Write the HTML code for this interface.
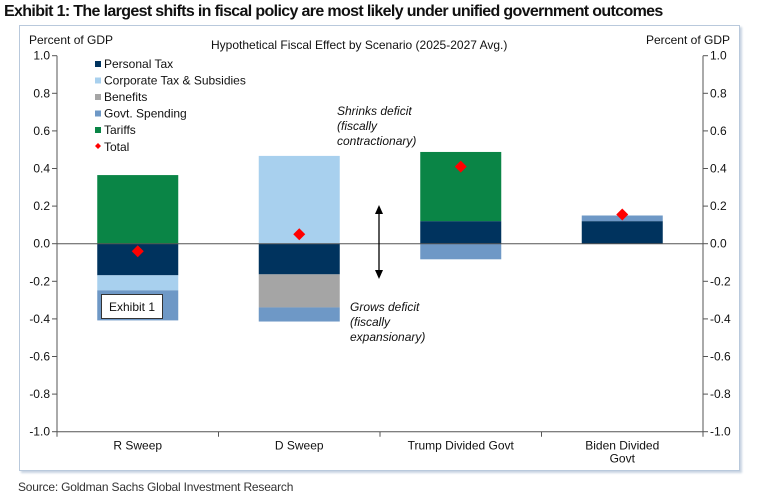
<!DOCTYPE html>
<html><head><meta charset="utf-8"><style>
body{margin:0;background:#fff;width:757px;height:503px;overflow:hidden;font-family:"Liberation Sans",sans-serif}
#title{position:absolute;left:4px;top:3px;font:bold 16px "Liberation Sans",sans-serif;color:#111;letter-spacing:-0.65px;white-space:nowrap}
#frame{position:absolute;left:19px;top:25px;width:719px;height:444px;border:1px solid #b9c9dc;box-shadow:2px 2px 2px #c8d4e2}
#src{position:absolute;left:18px;top:480px;font:12px "Liberation Sans",sans-serif;color:#333;letter-spacing:-0.2px}
svg{position:absolute;left:0;top:0}
text{font-family:"Liberation Sans",sans-serif;font-size:12px;fill:#111}
</style></head><body>
<div id="title">Exhibit 1: The largest shifts in fiscal policy are most likely under unified government outcomes</div>
<div id="frame"></div>
<div id="src">Source: Goldman Sachs Global Investment Research</div>
<svg id="chart" width="757" height="503"></svg>
<script>
const categories=["R Sweep","D Sweep","Trump Divided Govt","Biden Divided\nGovt"];
const personalTax=[-0.168,-0.163,0.12,0.12];
const corporateTax=[-0.08,0.467,0,0];
const benefits=[0,-0.176,0,0];
const govtSpending=[-0.16,-0.075,-0.083,0.03];
const tariffs=[0.365,0,0.368,0];
const totals=[-0.04,0.05,0.41,0.155];
const yTicks=[1.0,0.8,0.6,0.4,0.2,0.0,-0.2,-0.4,-0.6,-0.8,-1.0];

const NS="http://www.w3.org/2000/svg";
const svg=document.getElementById('chart');
const X0=57,X1=703,YT=55.7,YB=431.7;
const y=v=>YT+(1-v)/2*(YB-YT);
const band=(X1-X0)/categories.length;
const xc=i=>X0+band*(i+0.5);
const BW=81;
function el(t,a){const e=document.createElementNS(NS,t);for(const k in a)e.setAttribute(k,a[k]);svg.appendChild(e);return e;}

const series=[[personalTax,"#00335e","personal-tax"],[corporateTax,"#a8d0ee","corporate-tax"],[benefits,"#a5a5a5","benefits"],[govtSpending,"#6e98c6","govt-spending"],[tariffs,"#0a8546","tariffs"]];
categories.forEach((c,i)=>{
  let pos=0,neg=0;
  series.forEach(([arr,col,nm])=>{
    const v=arr[i]; if(!v)return;
    let a,b; if(v>0){a=pos;b=pos+v;pos=b;}else{a=neg;b=neg+v;neg=b;}
    const r=el('rect',{x:xc(i)-BW/2,y:y(Math.max(a,b)),width:BW,height:Math.abs(y(a)-y(b)),fill:col});
    
    
  });
});
const z=el('line',{x1:X0,x2:X1,y1:y(0),y2:y(0),stroke:'#555','stroke-width':1});

totals.forEach((v,i)=>{
  const cx=xc(i),cy=y(v),s=6;
  const d=el('polygon',{points:`${cx},${cy-s} ${cx+s},${cy} ${cx},${cy+s} ${cx-s},${cy}`,fill:'#f00'});
  
});
[[X0,-5,'end',X0-7],[X1,5,'start',X1+7]].forEach(([ax,tk,anc,tx],k)=>{
  const l=el('line',{x1:ax,x2:ax,y1:YT,y2:YB,stroke:'#555'});
  
  yTicks.forEach(t=>{
    el('line',{x1:ax,x2:ax+tk,y1:y(t),y2:y(t),stroke:'#555'});
    const tt=el('text',{x:tx,y:y(t)+4,'text-anchor':anc});tt.textContent=t.toFixed(1);
    
  });
});
el('line',{x1:X0,x2:X1,y1:YB,y2:YB,stroke:'#555'});
for(let i=0;i<=categories.length;i++)el('line',{x1:X0+band*i,x2:X0+band*i,y1:YB,y2:YB+5,stroke:'#555'});
categories.forEach((c,i)=>{
  c.split('\n').forEach((ln,j)=>{
    const t=el('text',{x:xc(i),y:YB+18+j*13,'text-anchor':'middle'});t.textContent=ln;
    
  });
});
function txt(x,yy,s,name,extra){const t=el('text',Object.assign({x:x,y:yy},extra||{}));t.textContent=s;return t;}
txt(29,44,'Percent of GDP','left-axis-title',{'font-size':'13'});
txt(730,44,'Percent of GDP','right-axis-title',{'font-size':'13','text-anchor':'end'});
txt(211,49,'Hypothetical Fiscal Effect by Scenario (2025-2027  Avg.)','chart-subtitle',{'font-size':'13'});
const leg=[["Personal Tax","#00335e"],["Corporate Tax & Subsidies","#a8d0ee"],["Benefits","#a5a5a5"],["Govt. Spending","#6e98c6"],["Tariffs","#0a8546"]];
leg.forEach(([n,c],i)=>{
  const yy=64+i*16.5;
  const r=el('rect',{x:95,y:yy-3,width:6,height:6,fill:c});
  
  txt(104,yy+4,n,'legend-entry');
});
el('polygon',{points:'98,143 101,146 98,149 95,146',fill:'#f00'});
txt(104,151,'Total','legend-entry');
const it={'font-style':'italic'};
txt(337,115,'Shrinks deficit','annotation-shrinks',it);
txt(337,130,'(fiscally','annotation-shrinks',it);
txt(337,145,'contractionary)','annotation-shrinks',it);
txt(350,311,'Grows deficit','annotation-grows',it);
txt(350,326,'(fiscally','annotation-grows',it);
txt(350,341,'expansionary)','annotation-grows',it);
el('line',{x1:379,x2:379,y1:210,y2:274,stroke:'#000','stroke-width':1.3});
el('polygon',{points:'379,205 375,214 383,214',fill:'#000'});
el('polygon',{points:'379,279 375,270 383,270',fill:'#000'});
const b=el('rect',{x:101.5,y:294.5,width:61,height:24,fill:'#fff',stroke:'#333'});

txt(132,311,'Exhibit 1','exhibit-label',{'text-anchor':'middle','fill':'#444'});
</script>
</body></html>
